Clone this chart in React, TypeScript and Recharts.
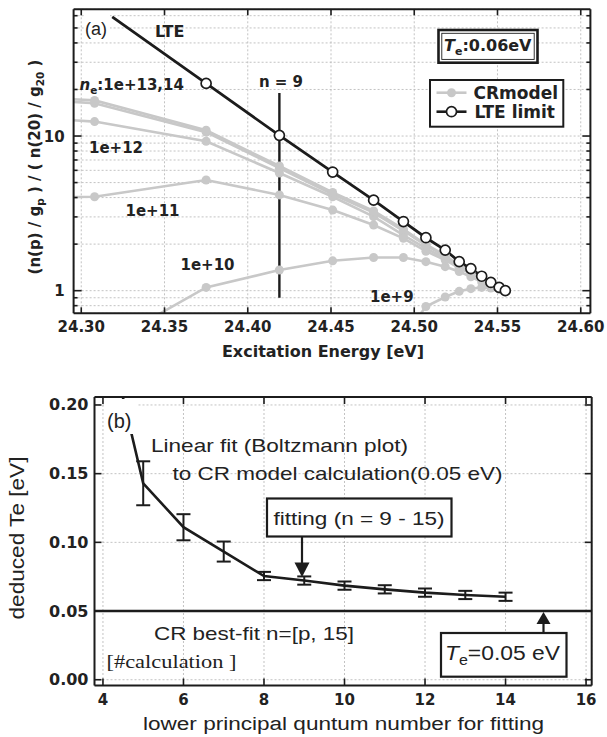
import React from "react";
import {
  ComposedChart,
  LineChart,
  Line,
  XAxis,
  YAxis,
  CartesianGrid,
  ReferenceLine,
  ErrorBar,
} from "recharts";

const BOLD = "'DejaVu Sans', sans-serif";
const SANS = "'Liberation Sans', Arial, sans-serif";
const SERIF = "'Liberation Serif', 'Times New Roman', serif";
const INK = "#1c1c1c";
const GRAY = "#c8c8c8";
const GRID = "#b4b4b4";

// ---------- panel (a): population ratio vs excitation energy ----------
// levels n = 6 .. 20
const levelEnergy = [24.209, 24.308, 24.375, 24.419, 24.451, 24.4756, 24.4935, 24.507, 24.5186, 24.527, 24.534, 24.5405, 24.546, 24.551, 24.5547];
const ne14 = [19.5, 17.0, 10.9, 6.4, 4.32, 3.28, 2.5, 1.99, 1.69, 1.46, 1.34, 1.21, 1.12, 1.05, 1.0];
const ne13 = [19.0, 16.3, 10.6, 6.2, 4.2, 3.2, 2.44, 1.96, 1.67, 1.45, 1.33, 1.2, 1.11, 1.04, 1.0];
const ne12 = [14.5, 12.4, 9.25, 5.77, 4.05, 3.01, 2.29, 1.88, 1.62, 1.42, 1.31, 1.19, 1.1, 1.04, 1.0];
const ne11 = [3.9, 4.05, 5.2, 4.16, 3.32, 2.66, 2.18, 1.8, 1.58, 1.4, 1.29, 1.18, 1.1, 1.04, 1.0];
const ne10 = [null, 0.41, 1.05, 1.36, 1.56, 1.64, 1.64, 1.54, 1.43, 1.33, 1.23, 1.14, 1.08, 1.03, 1.0];
const ne9 = [null, null, null, null, null, null, 0.5, 0.79, 0.91, 0.99, 1.03, 1.05, 1.04, 1.02, 1.0];

// LTE limit (first point is only the start of the line, no marker)
const lteEnergy = [24.3186, 24.375, 24.419, 24.451, 24.4756, 24.4935, 24.507, 24.5186, 24.527, 24.534, 24.5405, 24.546, 24.551, 24.5547];
const lteValue = [59, 21.9, 10.1, 5.85, 3.85, 2.8, 2.2, 1.83, 1.54, 1.39, 1.24, 1.13, 1.05, 1.0];

const n9Energy = 24.419;
const n9Span = [0.9, 19];

const energyTicks = [24.3, 24.35, 24.4, 24.45, 24.5, 24.55, 24.6];
const ratioTicks = [0.8, 0.9, 1, 2, 3, 4, 5, 6, 7, 8, 9, 10, 20, 30, 40, 50, 60];
const ratioLabels = [1, 10];

// ---------- panel (b): deduced Te vs lower quantum number ----------
const fitStart = [4, 5, 6, 7, 8, 9, 10, 11, 12, 13, 14];
const deducedTe = [0.267, 0.143, 0.111, 0.0933, 0.0755, 0.0722, 0.0685, 0.0658, 0.0634, 0.0617, 0.0604];
const teError = [null, 0.016, 0.0095, 0.0073, 0.003, 0.003, 0.003, 0.003, 0.003, 0.003, 0.003];
const pTicks = [4, 6, 8, 10, 12, 14, 16];
const teTicks = [0, 0.05, 0.1, 0.15, 0.2];
const trueTe = 0.05;

const crKeys = ["ne9", "ne10", "ne11", "ne12", "ne13", "ne14"];
const crRows = levelEnergy.map((e, i) => ({
  e,
  ne14: ne14[i],
  ne13: ne13[i],
  ne12: ne12[i],
  ne11: ne11[i],
  ne10: ne10[i],
  ne9: ne9[i],
}));
const lteRows = lteEnergy.map((e, i) => ({ e, lte: lteValue[i] }));
const n9Rows = n9Span.map((v) => ({ e: n9Energy, v }));

const teRows = fitStart.map((p, i) => ({ p, te: deducedTe[i] }));
const barRows = fitStart
  .map((p, i) => ({ p, te: deducedTe[i], err: teError[i] }))
  .filter((r) => r.err != null);

const frame = { stroke: INK, strokeWidth: 2 };

function FrameTick(props: any) {
  const { x, y, payload, side, majors, fmt, long = 7, short = 4, size = 15, off = 16 } = props;
  const v = payload.value;
  const major = !majors || majors.includes(v);
  const len = major ? long : short;
  let l = [x, y, x, y];
  let label: any = null;
  const txt = fmt && major ? fmt(v) : null;
  if (side === "bottom") {
    l = [x, y, x, y - len];
    if (txt) label = <text x={x} y={y + off} textAnchor="middle">{txt}</text>;
  } else if (side === "top") {
    l = [x, y, x, y + len];
  } else if (side === "left") {
    l = [x, y, x + len, y];
    if (txt) label = <text x={x - off} y={y + 5.5} textAnchor="end">{txt}</text>;
  } else {
    l = [x, y, x - len, y];
  }
  return (
    <g>
      <line x1={l[0]} y1={l[1]} x2={l[2]} y2={l[3]} stroke={INK} strokeWidth={1.6} />
      {label && (
        <g fontFamily={BOLD} fontWeight="bold" fontSize={size} fill="#222">
          {label}
        </g>
      )}
    </g>
  );
}

function LteDot(props: any) {
  const { cx, cy, index } = props;
  if (index === 0 || cx == null) return <g />;
  return <circle cx={cx} cy={cy} r={5} fill="#fff" stroke={INK} strokeWidth={1.7} />;
}

export default function App() {
  return (
    <div style={{ position: "absolute", left: 0, top: 0, width: 607, height: 737, background: "#fff", overflow: "hidden" }}>
      <div style={{ position: "absolute", left: 0, top: 0 }}>
        <ComposedChart width={607} height={372} data={crRows} margin={{ top: 0, right: 6.6, bottom: 0, left: 0 }}>
          <CartesianGrid stroke={GRID} strokeDasharray="2 2" strokeWidth={0.8} />
          <XAxis
            dataKey="e"
            type="number"
            domain={[24.2954, 24.6058]}
            allowDataOverflow
            ticks={energyTicks}
            interval={0}
            height={58.7}
            tickSize={0}
            tickMargin={0}
            axisLine={frame}
            tickLine={false}
            tick={<FrameTick side="bottom" fmt={(v: number) => v.toFixed(2)} long={6} off={19} size={15} />}
          />
          <XAxis
            xAxisId="top"
            orientation="top"
            dataKey="e"
            type="number"
            domain={[24.2954, 24.6058]}
            allowDataOverflow
            ticks={energyTicks}
            interval={0}
            height={9.3}
            tickSize={0}
            tickMargin={0}
            axisLine={frame}
            tickLine={false}
            tick={<FrameTick side="top" long={6} />}
          />
          <YAxis
            type="number"
            scale="log"
            domain={[0.714, 66]}
            allowDataOverflow
            ticks={ratioTicks}
            interval={0}
            width={73.6}
            tickSize={0}
            tickMargin={0}
            axisLine={frame}
            tickLine={false}
            tick={<FrameTick side="left" majors={ratioLabels} fmt={(v: number) => String(v)} long={8} short={4} off={9} size={15} />}
          />
          <YAxis
            yAxisId="right"
            orientation="right"
            type="number"
            scale="log"
            domain={[0.714, 66]}
            allowDataOverflow
            ticks={ratioTicks}
            interval={0}
            width={10}
            tickSize={0}
            tickMargin={0}
            axisLine={frame}
            tickLine={false}
            tick={<FrameTick side="right" majors={ratioLabels} long={8} short={4} />}
          />
          {crKeys.map((k) => (
            <Line
              key={k}
              dataKey={k}
              stroke={GRAY}
              strokeWidth={2.6}
              dot={{ r: 4.5, fill: GRAY, stroke: GRAY, strokeWidth: 0 }}
              activeDot={false}
              connectNulls={false}
              isAnimationActive={false}
            />
          ))}
          <Line data={n9Rows} dataKey="v" stroke={INK} strokeWidth={2.4} dot={false} activeDot={false} isAnimationActive={false} />
          <Line data={lteRows} dataKey="lte" stroke={INK} strokeWidth={2.8} dot={<LteDot />} activeDot={false} isAnimationActive={false} />
        </ComposedChart>
      </div>

      <div style={{ position: "absolute", left: 0, top: 380 }}>
        <LineChart width={607} height={357} margin={{ top: 7, right: 5.3, bottom: 0, left: 0 }}>
          <CartesianGrid stroke={GRID} strokeDasharray="2 2" strokeWidth={0.8} />
          <XAxis
            dataKey="p"
            type="number"
            domain={[3.79, 16.14]}
            allowDataOverflow
            ticks={pTicks}
            interval={0}
            height={51.5}
            tickSize={0}
            tickMargin={0}
            axisLine={frame}
            tickLine={false}
            tick={<FrameTick side="bottom" fmt={(v: number) => String(v)} long={7} off={19} size={15} />}
          />
          <XAxis
            xAxisId="top"
            orientation="top"
            dataKey="p"
            type="number"
            domain={[3.79, 16.14]}
            allowDataOverflow
            ticks={pTicks}
            interval={0}
            height={10}
            tickSize={0}
            tickMargin={0}
            axisLine={frame}
            tickLine={false}
            tick={<FrameTick side="top" long={7} />}
          />
          <YAxis
            type="number"
            domain={[-0.0042, 0.2058]}
            allowDataOverflow
            ticks={teTicks}
            interval={0}
            width={94.5}
            tickSize={0}
            tickMargin={0}
            axisLine={frame}
            tickLine={false}
            tick={<FrameTick side="left" fmt={(v: number) => v.toFixed(2)} long={7} off={6} size={16} />}
          />
          <YAxis
            yAxisId="right"
            orientation="right"
            type="number"
            domain={[-0.0042, 0.2058]}
            allowDataOverflow
            ticks={teTicks}
            interval={0}
            width={10}
            tickSize={0}
            tickMargin={0}
            axisLine={frame}
            tickLine={false}
            tick={<FrameTick side="right" long={7} />}
          />
          <ReferenceLine y={trueTe} stroke={INK} strokeWidth={2.5} />
          <Line data={teRows} dataKey="te" stroke={INK} strokeWidth={2.6} dot={false} activeDot={false} isAnimationActive={false} />
          <Line data={barRows} dataKey="te" stroke="none" dot={false} activeDot={false} isAnimationActive={false}>
            <ErrorBar dataKey="err" direction="y" width={7} stroke={INK} strokeWidth={2} />
          </Line>
        </LineChart>
      </div>

      <svg width={607} height={737} style={{ position: "absolute", left: 0, top: 0, pointerEvents: "none" }}>
        {/* ----- panel (a) annotations ----- */}
        <rect x={84} y={11} width={26} height={28} fill="#fff" />
        <text x={85} y={35} fontFamily={SANS} fontSize={18} fill="#222">(a)</text>
        <g fontFamily={BOLD} fontWeight="bold" fill="#222">
          <text x={155} y={36.5} fontSize={16}>LTE</text>
          <text x={281} y={86.5} fontSize={15} textAnchor="middle">n = 9</text>
          <text x={79.5} y={90} fontSize={15}>
            <tspan fontStyle="italic">n</tspan>
            <tspan fontSize={10.5} dy={4}>e</tspan>
            <tspan dy={-4}>:1e+13,14</tspan>
          </text>
          <text x={89} y={153} fontSize={15}>1e+12</text>
          <text x={125.5} y={216} fontSize={15}>1e+11</text>
          <text x={180.5} y={269.5} fontSize={15}>1e+10</text>
          <text x={370} y={301.5} fontSize={15}>1e+9</text>
          <text x={323} y={357} fontSize={16} textAnchor="middle">Excitation Energy [eV]</text>
          <text transform="translate(40,167) rotate(-90)" fontSize={15} textAnchor="middle">
            (n(p) / g<tspan fontSize={10.5} dy={4}>p</tspan>
            <tspan dy={-4}> ) / ( n(20) / g</tspan>
            <tspan fontSize={10.5} dy={4}>20</tspan>
            <tspan dy={-4}> )</tspan>
          </text>
        </g>
        {/* Te box */}
        <rect x={438.5} y={30} width={99} height={32.7} fill="#fff" stroke={INK} strokeWidth={2.6} />
        <rect x={441.8} y={33.3} width={92.4} height={26.1} fill="none" stroke={INK} strokeWidth={0.9} />
        <text x={444} y={51} fontFamily={BOLD} fontWeight="bold" fontSize={16} fill="#222">
          <tspan fontStyle="italic">T</tspan>
          <tspan fontSize={11} dy={4}>e</tspan>
          <tspan dy={-4}>:0.06eV</tspan>
        </text>
        {/* legend */}
        <rect x={430} y={80} width={133.3} height={46.7} fill="#fff" stroke={INK} strokeWidth={2} />
        <line x1={436.5} y1={92.7} x2={466.5} y2={92.7} stroke={GRAY} strokeWidth={2.6} />
        <circle cx={451.5} cy={92.7} r={4.5} fill={GRAY} />
        <line x1={436.5} y1={111.7} x2={466.5} y2={111.7} stroke={INK} strokeWidth={2.6} />
        <circle cx={451.5} cy={111.7} r={5} fill="#fff" stroke={INK} strokeWidth={1.7} />
        <g fontFamily={BOLD} fontWeight="bold" fontSize={17} fill="#222">
          <text x={473.5} y={99}>CRmodel</text>
          <text x={474.5} y={118}>LTE limit</text>
        </g>

        {/* ----- panel (b) annotations ----- */}
        <rect x={104} y={399} width={33} height={35} fill="#fff" />
        <text x={107} y={428} fontFamily={SANS} fontSize={20} fill="#222">(b)</text>
        <g fontFamily={SANS} fontSize={19} fill="#222">
          <text x={151} y={452} textLength={257} lengthAdjust="spacingAndGlyphs">Linear fit (Boltzmann plot)</text>
          <text x={172.5} y={480} textLength={330} lengthAdjust="spacingAndGlyphs">to CR model calculation(0.05 eV)</text>
          <text x={154} y={640} textLength={200} lengthAdjust="spacingAndGlyphs">CR best-fit n=[p, 15]</text>
        </g>
        <text x={106.5} y={668} fontFamily={SERIF} fontSize={19} fill="#222" textLength={130} lengthAdjust="spacingAndGlyphs">[#calculation ]</text>
        {/* fitting box + arrow */}
        <rect x={267} y={498.5} width={184.5} height={38} fill="#fff" stroke={INK} strokeWidth={2.2} />
        <text x={273.5} y={525} fontFamily={SANS} fontSize={19} fill="#222" textLength={171} lengthAdjust="spacingAndGlyphs">fitting (n = 9 - 15)</text>
        <line x1={302} y1={537} x2={302} y2={564} stroke={INK} strokeWidth={2.2} />
        <polygon points="294.5,562.5 309.5,562.5 302,577" fill={INK} />
        {/* Te = 0.05 eV box + arrow */}
        <line x1={543.5} y1={623} x2={543.5} y2={633} stroke={INK} strokeWidth={2.2} />
        <polygon points="536.5,624 550.5,624 543.5,612" fill={INK} />
        <rect x={441} y={633} width={125.5} height={43.7} fill="#fff" stroke={INK} strokeWidth={2.2} />
        <text x={445} y={660} fontFamily={SANS} fontSize={20} fill="#222" textLength={115} lengthAdjust="spacingAndGlyphs">
          <tspan fontStyle="italic">T</tspan>
          <tspan fontSize={14} dy={5}>e</tspan>
          <tspan dy={-5}>=0.05 eV</tspan>
        </text>
        {/* axis titles */}
        <g fontFamily={SANS} fill="#222">
          <text x={343.5} y={730} fontSize={18} textAnchor="middle" textLength={401} lengthAdjust="spacingAndGlyphs">lower principal quntum number for fitting</text>
          <text transform="translate(24,538) rotate(-90)" fontSize={20} textAnchor="middle" textLength={163} lengthAdjust="spacingAndGlyphs">deduced Te [eV]</text>
        </g>
      </svg>
    </div>
  );
}
